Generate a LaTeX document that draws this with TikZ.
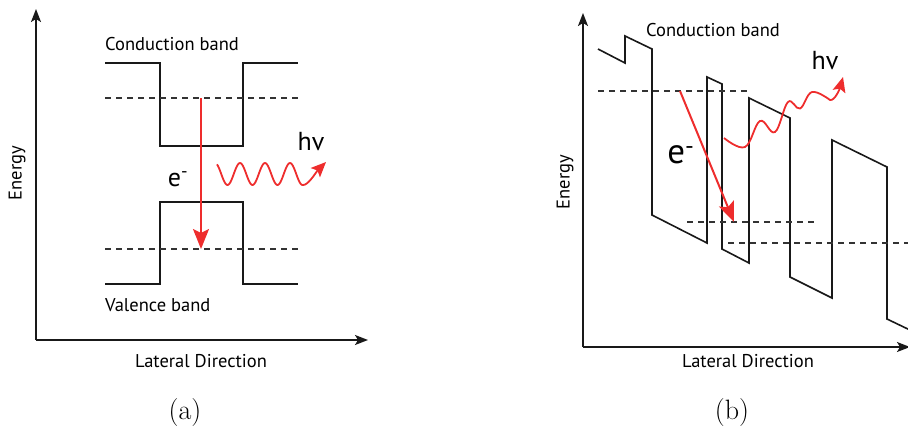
\documentclass[tikz,border=0pt]{standalone}
\usepackage{fontspec}
\setsansfont{PT Sans}
\usetikzlibrary{arrows.meta}
\definecolor{arrred}{HTML}{EE2D2D}
\begin{document}
\begin{tikzpicture}[x=1pt,y=-1pt,
  band/.style={line width=1.6pt, black!90, line join=miter},
  lvl/.style={line width=1.3pt, dash pattern=on 6pt off 5pt, black!80},
  axisline/.style={line width=1.5pt, black!90, -{Stealth[length=13pt,width=10pt,inset=3pt]}},
  trans/.style={line width=2pt, arrred, -{Stealth[length=20pt,width=16pt,inset=4pt]}},
  photon/.style={line width=1.8pt, arrred, -{Stealth[length=15pt,width=13pt,inset=3pt]}},
  lbl/.style={font=\sffamily\fontsize{18.5}{22}\selectfont, inner sep=0pt},
  big/.style={font=\sffamily\fontsize{26}{30}\selectfont, inner sep=0pt},
  captxt/.style={font=\fontsize{28}{32}\selectfont, inner sep=0pt}]
\useasboundingbox (0,0) rectangle (908,434);

% ---------------- panel (a) ----------------
\coordinate (oa) at (36,340);
\coordinate (ya) at (36,9);
\coordinate (xa) at (368,340);
\draw[axisline] (oa) -- (ya);
\draw[axisline] (oa) -- (xa);

\draw[band] (105,63) -- (160,63) -- (160,146) -- (243,146) -- (243,63) -- (298,63);
\draw[band] (105,284) -- (160,284) -- (160,202) -- (243,202) -- (243,284) -- (298,284);
\draw[lvl] (105,98) -- (298,98);
\draw[lvl] (105,249) -- (298,249);

\coordinate (ta1) at (201,98);
\coordinate (ta2) at (201,249);
\draw[trans] (ta1) -- (ta2);

\draw[photon] plot[domain=217:302.5, samples=90, smooth] (\x,{174-11*cos((\x-215)*14.4)})
  .. controls (308,186) and (316,172) .. (326,162);

\node[lbl, anchor=west] (cba) at (105,44) {Conduction band};
\node[lbl, anchor=west] (vba) at (105,305) {Valence band};
\node[lbl] (lda) at (201,361) {Lateral Direction};
\node[lbl, rotate=90] (ena) at (17,173) {Energy};
\node[big] (ea) at (178,179) {e\textsuperscript{-}};
\node[big] (hva) at (311,142) {hv};
\node[captxt] (capa) at (185,413) {(a)};

% ---------------- panel (b) ----------------
\coordinate (ob) at (583,347);
\coordinate (yb) at (583,13);
\coordinate (xb) at (910,347);
\draw[axisline] (ob) -- (yb);
\draw[axisline] (ob) -- (xb);

\draw[band] (598,49) -- (625,63) -- (625,36) -- (652,49) -- (652,215) -- (707,243)
  -- (707,77) -- (722,84) -- (722,249) -- (749,263) -- (749,98) -- (790,118)
  -- (790,277) -- (832,298) -- (832,140) -- (887,167) -- (887,319) -- (912,331);
\draw[lvl] (598,91) -- (750,91);
\draw[lvl] (687,222) -- (818,222);
\draw[lvl] (728,243) -- (908,243);

\coordinate (tb1) at (680,91);
\coordinate (tb2) at (734,222);
\draw[trans] (tb1) -- (tb2);

\draw[photon] plot[smooth, tension=0.65] coordinates {(724,138) (745,147) (760,121) (775,132) (788,102) (800,108.5) (812,92) (830,100)}
  .. controls (835,101) and (840,88) .. (843,77);

\node[lbl, anchor=west] (cbb) at (646,30) {Conduction band};
\node[lbl] (ldb) at (748,361) {Lateral Direction};
\node[lbl, rotate=90] (enb) at (565,182) {Energy};
\node[big, font=\sffamily\fontsize{35}{40}\selectfont] (eb) at (681,155) {e\textsuperscript{-}};
\node[big] (hvb) at (825,61) {hv};
\node[captxt] (capb) at (732,413) {(b)};
\end{tikzpicture}
\end{document}
